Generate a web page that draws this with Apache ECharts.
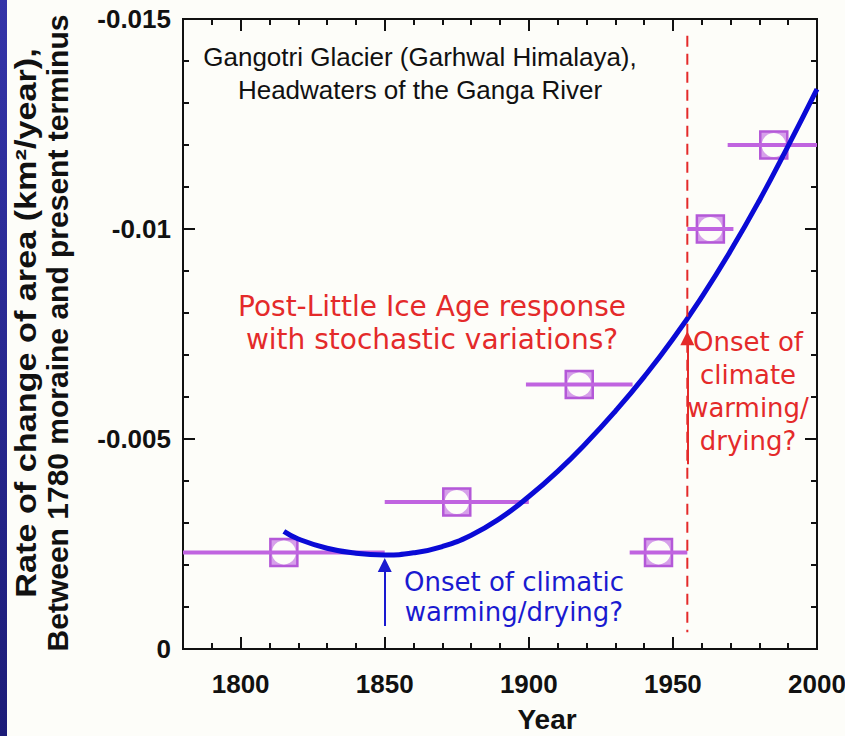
<!DOCTYPE html>
<html><head><meta charset="utf-8">
<script src="https://cdn.jsdelivr.net/npm/echarts@6/dist/echarts.min.js"></script>
<style>html,body{margin:0;padding:0;background:#fdfdf9}#c{width:845px;height:736px}</style>
</head><body><div id="c"></div>
<script>
// ---- data ----
const xMajorTicks = [1800, 1850, 1900, 1950, 2000];
const xMinorTicks = [1780, 1790, 1810, 1820, 1830, 1840, 1860, 1870, 1880, 1890, 1910, 1920, 1930, 1940, 1960, 1970, 1980, 1990];
const yMajorTicks = [-0.015, -0.01, -0.005, 0];
const yTickLabels = ['-0.015', '-0.01', '-0.005', '0'];
const yMinorTicks = [-0.014, -0.013, -0.012, -0.011, -0.009, -0.008, -0.007, -0.006, -0.004, -0.003, -0.002, -0.001];

const obsYear  = [1815, 1875, 1917.5, 1945, 1963, 1985];
const obsValue = [-0.0023, -0.0035, -0.0063, -0.0023, -0.0100, -0.0120];
const obsStart = [1780, 1850, 1899, 1935, 1955, 1969];
const obsEnd   = [1850, 1900, 1936, 1955, 1971, 2000];

const curveYear  = [1815, 1820, 1830, 1840, 1850, 1860, 1870, 1880, 1890, 1900, 1910, 1920, 1930, 1940, 1950, 1960, 1970, 1980, 1990, 2000];
const curveValue = [-0.0028, -0.00262, -0.0024, -0.00228, -0.00224, -0.00229, -0.00244, -0.00271, -0.00311, -0.00363, -0.00423, -0.00491, -0.00566, -0.00648, -0.00738, -0.00838, -0.00948, -0.01068, -0.01198, -0.01333];

const onsetYear = 1955;
const dashedSpan = [-0.0146, -0.0004];
const redArrow = [-0.0044, -0.0074];
const blueArrowYear = 1850;
const blueArrow = [-0.00055, -0.00200];

// ---- chart ----
const X_MIN = 1780, X_MAX = 2000, Y_MIN = -0.015, Y_MAX = 0;
const chart = echarts.init(document.getElementById('c'), null, {renderer: 'svg'});
const black = '#111';
const tickFont = {fontFamily: 'Liberation Sans', fontWeight: 'bold', fontSize: 26, color: '#111'};

function xAx(grid, pos, vals, len, labels) {
  return {
    type: 'value', position: pos, min: X_MIN, max: X_MAX, gridIndex: grid,
    axisLine: {show: true, onZero: false, lineStyle: {color: black, width: 2}},
    axisTick: {show: true, inside: true, length: len, customValues: vals, lineStyle: {color: black, width: 2}},
    axisLabel: labels ? Object.assign({show: true, customValues: xMajorTicks, margin: 22,
      formatter: v => String(Math.round(v))}, tickFont) : {show: false},
    splitLine: {show: false}
  };
}
function yAx(grid, pos, vals, len, labels) {
  return {
    type: 'value', position: pos, min: Y_MIN, max: Y_MAX, inverse: true, gridIndex: grid,
    axisLine: {show: true, onZero: false, lineStyle: {color: black, width: 2}},
    axisTick: {show: true, inside: true, length: len, customValues: vals, lineStyle: {color: black, width: 2}},
    axisLabel: labels ? Object.assign({show: true, customValues: yMajorTicks, margin: 12,
      formatter: v => { const i = yMajorTicks.findIndex(t => Math.abs(t - v) < 1e-9); return i >= 0 ? yTickLabels[i] : ''; }}, tickFont) : {show: false},
    splitLine: {show: false}
  };
}

const obsData = obsYear.map((y, i) => [y, obsValue[i], obsStart[i], obsEnd[i]]);
const curveData = curveYear.map((y, i) => [y, curveValue[i]]);
const gridBox = {left: 183, right: 28, top: 19, bottom: 87, containLabel: false, outerBoundsMode: 'none'};

const option = {
  backgroundColor: '#fdfdf9',
  animation: false,
  grid: [Object.assign({}, gridBox), Object.assign({}, gridBox)],
  xAxis: [
    xAx(0, 'bottom', xMajorTicks, 12, true),
    xAx(0, 'top', xMajorTicks, 12, false),
    xAx(1, 'bottom', xMinorTicks, 6, false),
    xAx(1, 'top', xMinorTicks, 6, false)
  ],
  yAxis: [
    yAx(0, 'left', yMajorTicks, 12, true),
    yAx(0, 'right', yMajorTicks, 12, false),
    yAx(1, 'left', yMinorTicks, 6, false),
    yAx(1, 'right', yMinorTicks, 6, false)
  ],
  series: [
    {
      type: 'custom', xAxisIndex: 0, yAxisIndex: 0, z: 2, silent: true,
      data: obsData,
      renderItem: function (params, api) {
        const yv = api.value(1);
        const c = api.coord([api.value(0), yv]);
        const a = api.coord([api.value(2), yv]);
        const b = api.coord([api.value(3), yv]);
        const s = 27;
        return {type: 'group', children: [
          {type: 'rect', shape: {x: c[0] - s / 2, y: c[1] - s / 2, width: s, height: s}, style: {fill: '#d6a0ea', stroke: '#b458d8', lineWidth: 2.5}},
          {type: 'circle', shape: {cx: c[0], cy: c[1], r: s / 2 - 1.5}, style: {fill: '#fdfdf9'}},
          {type: 'line', shape: {x1: a[0], y1: a[1], x2: b[0], y2: b[1]}, style: {stroke: '#c064e0', lineWidth: 4}}
        ]};
      }
    },
    {
      type: 'line', xAxisIndex: 0, yAxisIndex: 0, z: 3, silent: true,
      data: curveData, smooth: true, symbol: 'none',
      lineStyle: {color: '#0a0ad6', width: 5}
    },
    {
      type: 'line', xAxisIndex: 0, yAxisIndex: 0, z: 4, silent: true,
      data: [[onsetYear, dashedSpan[0]], [onsetYear, dashedSpan[1]]], symbol: 'none',
      lineStyle: {color: '#e42a2a', width: 2, type: [11, 7]},
      markLine: {
        silent: true, animation: false,
        symbol: ['none', 'triangle'], symbolSize: 14,
        label: {show: false},
        data: [
          [{coord: [onsetYear, redArrow[0]], lineStyle: {color: '#e42a2a', width: 2, type: 'solid'}, itemStyle: {color: '#e42a2a'}},
           {coord: [onsetYear, redArrow[1]]}],
          [{coord: [blueArrowYear, blueArrow[0]], lineStyle: {color: '#1a1ad0', width: 2, type: 'solid'}, itemStyle: {color: '#1a1ad0'}},
           {coord: [blueArrowYear, blueArrow[1]]}]
        ]
      }
    }
  ],
  graphic: [
    {type: 'rect', left: 0, top: 0, shape: {width: 7, height: 736}, z: 100,
      style: {fill: new echarts.graphic.LinearGradient(0, 0, 0, 1, [{offset: 0, color: '#3434a8'}, {offset: 1, color: '#1c1c78'}])}},
    {type: 'text', x: 420, y: 73, z: 50,
      style: {text: 'Gangotri Glacier (Garhwal Himalaya),\nHeadwaters of the Ganga River', font: '26px "Liberation Sans"', fill: '#111',
        align: 'center', verticalAlign: 'middle', textAlign: 'center', textVerticalAlign: 'middle', lineHeight: 33}},
    {type: 'text', x: 432, y: 323, z: 50,
      style: {text: 'Post-Little Ice Age response\nwith stochastic variations?', font: '28px "DejaVu Sans"', fill: '#e42a2a',
        align: 'center', verticalAlign: 'middle', textAlign: 'center', textVerticalAlign: 'middle', lineHeight: 33}},
    {type: 'text', x: 514, y: 597, z: 50,
      style: {text: 'Onset of climatic\nwarming/drying?', font: '26px "DejaVu Sans"', fill: '#1a1ad0',
        align: 'center', verticalAlign: 'middle', textAlign: 'center', textVerticalAlign: 'middle', lineHeight: 30}},
    {type: 'text', x: 748, y: 391, z: 50,
      style: {text: 'Onset of\nclimate\nwarming/\ndrying?', font: '26px "DejaVu Sans"', fill: '#e42a2a',
        align: 'center', verticalAlign: 'middle', textAlign: 'center', textVerticalAlign: 'middle', lineHeight: 33}},
    {type: 'text', x: 26, y: 323, rotation: Math.PI / 2, scaleX: 1.18, z: 50,
      style: {text: 'Rate of change of area (km\u00b2/year),', font: 'bold 29px "Liberation Sans"', fill: '#111',
        align: 'center', verticalAlign: 'middle', textAlign: 'center', textVerticalAlign: 'middle'}},
    {type: 'text', x: 57, y: 333, rotation: Math.PI / 2, z: 50,
      style: {text: 'Between 1780 moraine and present terminus', font: 'bold 30px "Liberation Sans"', fill: '#111',
        align: 'center', verticalAlign: 'middle', textAlign: 'center', textVerticalAlign: 'middle'}},
    {type: 'text', x: 547, y: 719, z: 50,
      style: {text: 'Year', font: 'bold 28px "Liberation Sans"', fill: '#111',
        align: 'center', verticalAlign: 'middle', textAlign: 'center', textVerticalAlign: 'middle'}}
  ]
};
chart.setOption(option);
</script></body></html>
